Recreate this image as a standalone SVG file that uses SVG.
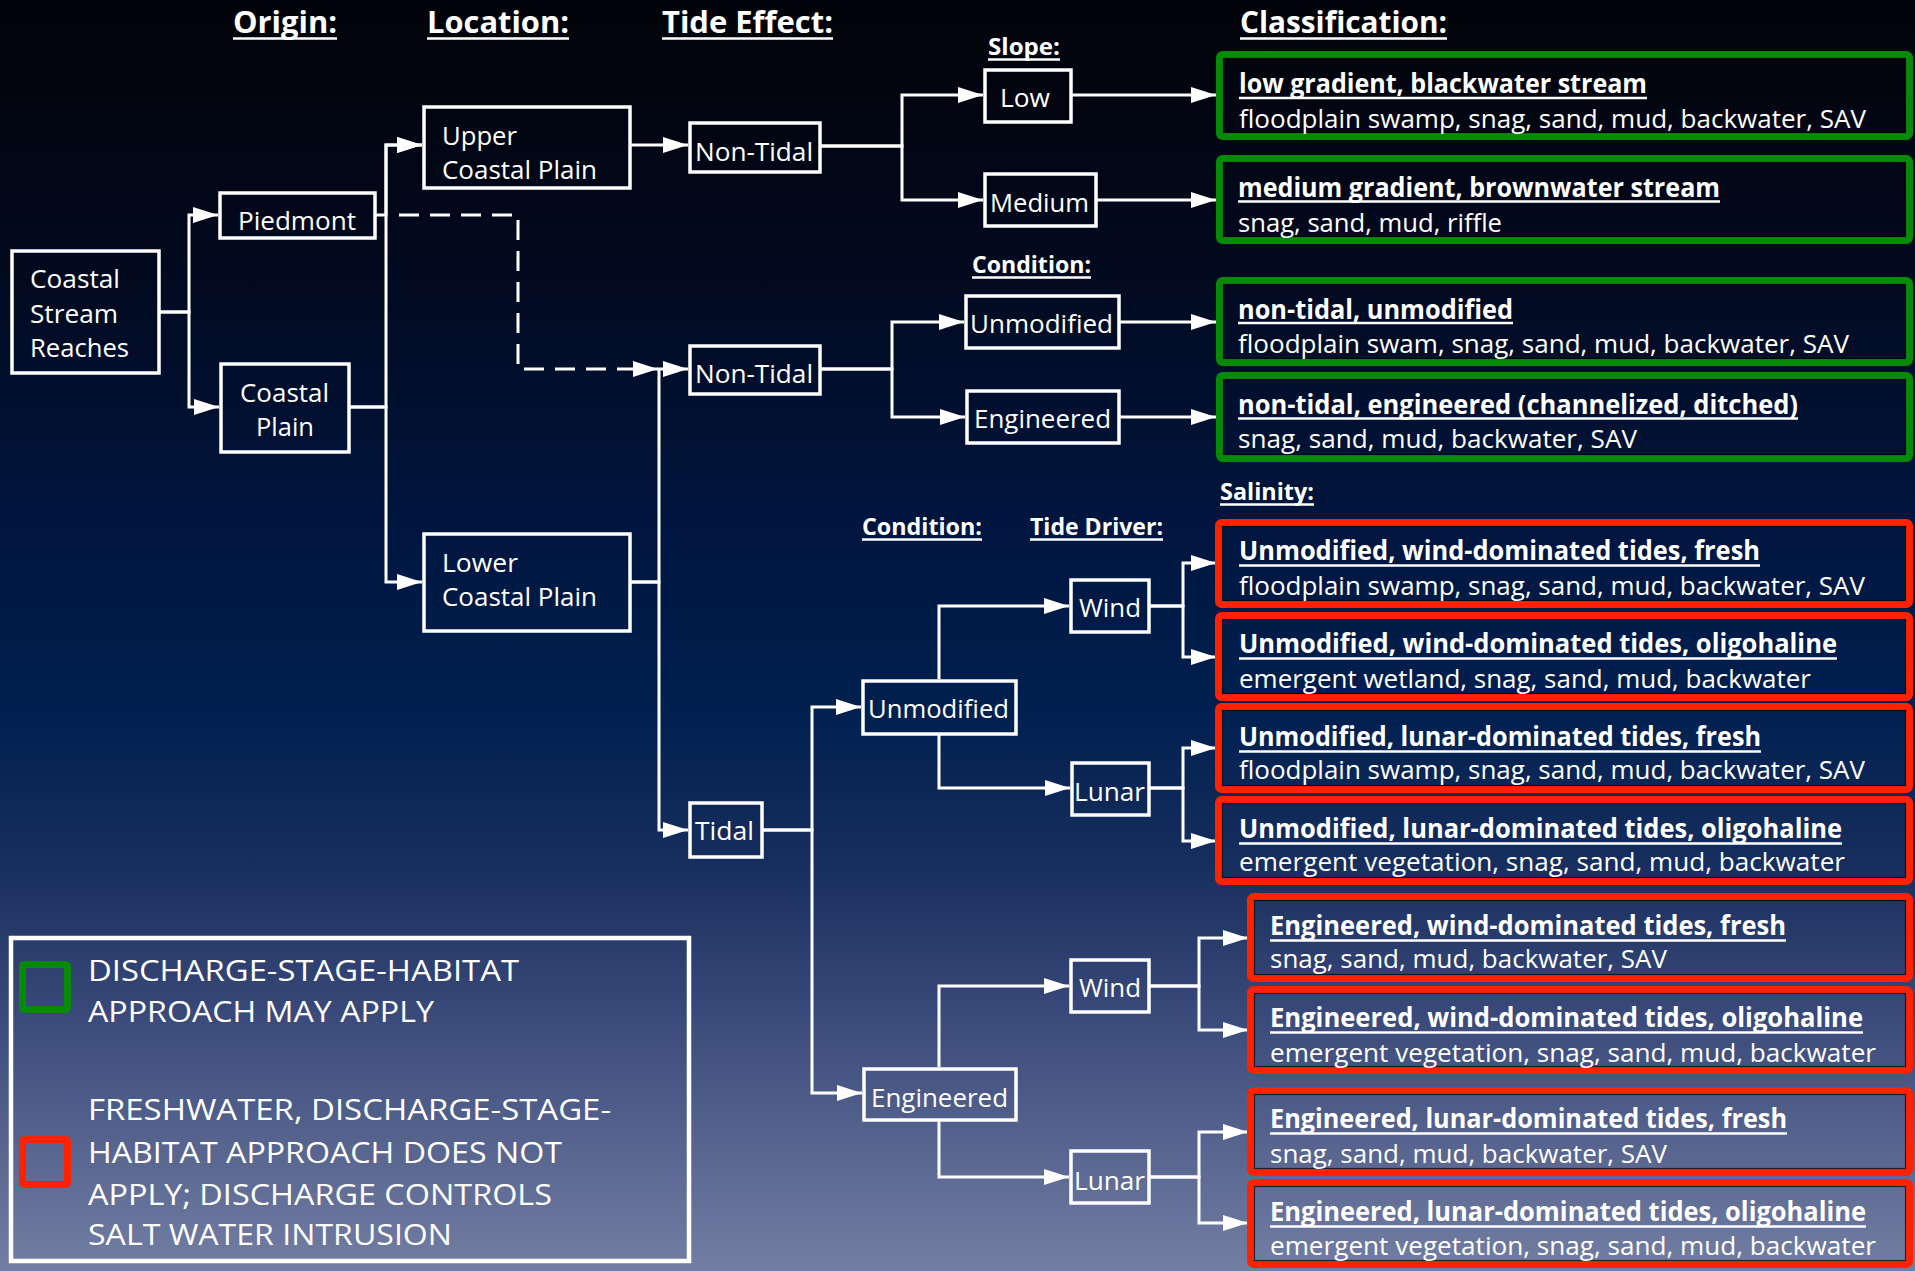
<svg xmlns="http://www.w3.org/2000/svg" width="1915" height="1271" viewBox="0 0 1915 1271">
<defs>
<linearGradient id="bgg" x1="0" y1="0" x2="0" y2="1">
<stop offset="0" stop-color="#020308"/>
<stop offset="0.22" stop-color="#020a20"/>
<stop offset="0.42" stop-color="#001640"/>
<stop offset="0.56" stop-color="#00204f"/>
<stop offset="0.68" stop-color="#172e5e"/>
<stop offset="0.8" stop-color="#3a4a7a"/>
<stop offset="1" stop-color="#737ea3"/>
</linearGradient>
<marker id="ah" markerUnits="userSpaceOnUse" markerWidth="26" markerHeight="18" refX="25" refY="8.5" orient="auto" viewBox="0 0 26 18">
<path d="M0,0.5 L25,8.5 L0,16.5 z" fill="#fff"/>
</marker>
<style>
.t{font-family:"Open Sans","Liberation Sans",sans-serif;fill:#fff;font-size:26px}
.h{font-weight:bold;font-size:30px}
.sh{font-weight:bold;font-size:23px}
.b{font-weight:bold}
.lg{font-size:29px}
.box{fill:none;stroke:#fff;stroke-width:3.5}
.gb{fill:none;stroke:#078a07;stroke-width:7}
.rb{fill:none;stroke:#ff2200;stroke-width:7}
.in{fill:none;stroke:#000010;stroke-width:1.2;stroke-opacity:0.7}
.ul{stroke:#fff;stroke-width:2.5}
.c{fill:none;stroke:#fff;stroke-width:3;marker-end:url(#ah)}
.d{stroke-dasharray:20 11}
.lb{fill:none;stroke:#fff;stroke-width:4.5}
</style>
</defs>
<rect x="0" y="0" width="1915" height="1271" fill="url(#bgg)"/>

<g id="headers">
<text class="t h" x="233" y="33" textLength="104" lengthAdjust="spacingAndGlyphs">Origin:</text>
<line class="ul" x1="233" y1="38.5" x2="337" y2="38.5"/>
<text class="t h" x="427" y="33" textLength="142" lengthAdjust="spacingAndGlyphs">Location:</text>
<line class="ul" x1="427" y1="38.5" x2="569" y2="38.5"/>
<text class="t h" x="662" y="33" textLength="171" lengthAdjust="spacingAndGlyphs">Tide Effect:</text>
<line class="ul" x1="662" y1="38.5" x2="833" y2="38.5"/>
<text class="t h" x="1240" y="33" textLength="207" lengthAdjust="spacingAndGlyphs">Classification:</text>
<line class="ul" x1="1240" y1="38.5" x2="1447" y2="38.5"/>
<text class="t sh" x="988" y="55" textLength="72" lengthAdjust="spacingAndGlyphs">Slope:</text>
<line class="ul" x1="988" y1="59.5" x2="1060" y2="59.5"/>
<text class="t sh" x="972" y="273" textLength="119" lengthAdjust="spacingAndGlyphs">Condition:</text>
<line class="ul" x1="972" y1="277.5" x2="1091" y2="277.5"/>
<text class="t sh" x="862" y="535" textLength="120" lengthAdjust="spacingAndGlyphs">Condition:</text>
<line class="ul" x1="862" y1="539.5" x2="982" y2="539.5"/>
<text class="t sh" x="1030" y="535" textLength="133" lengthAdjust="spacingAndGlyphs">Tide Driver:</text>
<line class="ul" x1="1030" y1="539.5" x2="1163" y2="539.5"/>
<text class="t sh" x="1220" y="500" textLength="94" lengthAdjust="spacingAndGlyphs">Salinity:</text>
<line class="ul" x1="1220" y1="504.5" x2="1314" y2="504.5"/>
</g>

<g id="connectors">
<path class="c" d="M160 312 H189 V215 H218"/>
<path class="c" d="M160 312 H189 V407 H219"/>
<path class="c" d="M376 215 H386 V145 H422"/>
<path class="c" d="M350 407 H386 V145 H422"/>
<path class="c" d="M350 407 H386 V582 H422"/>
<path class="c d" d="M399 215 H518 V369 H658"/>
<path class="c" d="M631 145 H688"/>
<path class="c" d="M631 582 H659 V369 H688"/>
<path class="c" d="M631 582 H659 V830 H688"/>
<path class="c" d="M821 146 H902 V95 H983"/>
<path class="c" d="M821 146 H902 V200 H983"/>
<path class="c" d="M1072 95 H1216"/>
<path class="c" d="M1097 200 H1216"/>
<path class="c" d="M821 369 H892 V322 H964"/>
<path class="c" d="M821 369 H892 V417 H965"/>
<path class="c" d="M1120 322 H1216"/>
<path class="c" d="M1120 417 H1216"/>
<path class="c" d="M763 830 H812 V707 H861"/>
<path class="c" d="M763 830 H812 V1093 H862"/>
<path class="c" d="M939 679 V606 H1069"/>
<path class="c" d="M939 735 V788 H1070"/>
<path class="c" d="M1150 606 H1183 V563 H1216"/>
<path class="c" d="M1150 606 H1183 V657 H1216"/>
<path class="c" d="M1150 788 H1183 V748 H1216"/>
<path class="c" d="M1150 788 H1183 V841 H1216"/>
<path class="c" d="M939 1067 V986 H1069"/>
<path class="c" d="M939 1121 V1177 H1069"/>
<path class="c" d="M1150 986 H1199 V938 H1248"/>
<path class="c" d="M1150 986 H1199 V1030 H1248"/>
<path class="c" d="M1150 1177 H1199 V1132 H1248"/>
<path class="c" d="M1150 1177 H1199 V1223 H1248"/>
</g>

<g id="n-coastal-stream-reaches">
<rect class="box" x="12" y="251" width="147" height="122"/>
<text class="t" x="30" y="288" textLength="90" lengthAdjust="spacingAndGlyphs">Coastal</text>
<text class="t" x="30" y="323" textLength="88" lengthAdjust="spacingAndGlyphs">Stream</text>
<text class="t" x="30" y="357" textLength="99" lengthAdjust="spacingAndGlyphs">Reaches</text>
</g>
<g id="n-piedmont">
<rect class="box" x="220" y="193" width="155" height="45"/>
<text class="t" x="238" y="230" textLength="118" lengthAdjust="spacingAndGlyphs">Piedmont</text>
</g>
<g id="n-coastal-plain">
<rect class="box" x="221" y="364" width="128" height="88"/>
<text class="t" x="240" y="402" textLength="89" lengthAdjust="spacingAndGlyphs">Coastal</text>
<text class="t" x="256" y="436" textLength="58" lengthAdjust="spacingAndGlyphs">Plain</text>
</g>
<g id="n-upper-coastal-plain">
<rect class="box" x="424" y="107" width="206" height="81"/>
<text class="t" x="442" y="145" textLength="75" lengthAdjust="spacingAndGlyphs">Upper</text>
<text class="t" x="442" y="179" textLength="155" lengthAdjust="spacingAndGlyphs">Coastal Plain</text>
</g>
<g id="n-lower-coastal-plain">
<rect class="box" x="424" y="534" width="206" height="97"/>
<text class="t" x="442" y="572" textLength="76" lengthAdjust="spacingAndGlyphs">Lower</text>
<text class="t" x="442" y="606" textLength="155" lengthAdjust="spacingAndGlyphs">Coastal Plain</text>
</g>
<g id="n-non-tidal-1">
<rect class="box" x="690" y="123" width="130" height="49"/>
<text class="t" x="695" y="161" textLength="118" lengthAdjust="spacingAndGlyphs">Non-Tidal</text>
</g>
<g id="n-non-tidal-2">
<rect class="box" x="690" y="346" width="130" height="48"/>
<text class="t" x="695" y="383" textLength="118" lengthAdjust="spacingAndGlyphs">Non-Tidal</text>
</g>
<g id="n-tidal">
<rect class="box" x="690" y="803" width="72" height="54"/>
<text class="t" x="695" y="840" textLength="59" lengthAdjust="spacingAndGlyphs">Tidal</text>
</g>
<g id="n-low">
<rect class="box" x="985" y="70" width="86" height="52"/>
<text class="t" x="1000" y="107" textLength="50" lengthAdjust="spacingAndGlyphs">Low</text>
</g>
<g id="n-medium">
<rect class="box" x="985" y="174" width="111" height="52"/>
<text class="t" x="990" y="212" textLength="99" lengthAdjust="spacingAndGlyphs">Medium</text>
</g>
<g id="n-unmodified-1">
<rect class="box" x="966" y="296" width="153" height="52"/>
<text class="t" x="970" y="333" textLength="143" lengthAdjust="spacingAndGlyphs">Unmodified</text>
</g>
<g id="n-engineered-1">
<rect class="box" x="967" y="391" width="152" height="52"/>
<text class="t" x="974" y="428" textLength="137" lengthAdjust="spacingAndGlyphs">Engineered</text>
</g>
<g id="n-unmodified-2">
<rect class="box" x="863" y="681" width="153" height="53"/>
<text class="t" x="868" y="718" textLength="141" lengthAdjust="spacingAndGlyphs">Unmodified</text>
</g>
<g id="n-engineered-2">
<rect class="box" x="864" y="1069" width="152" height="51"/>
<text class="t" x="871" y="1107" textLength="137" lengthAdjust="spacingAndGlyphs">Engineered</text>
</g>
<g id="n-wind-1">
<rect class="box" x="1071" y="580" width="78" height="52"/>
<text class="t" x="1079" y="617" textLength="62" lengthAdjust="spacingAndGlyphs">Wind</text>
</g>
<g id="n-lunar-1">
<rect class="box" x="1072" y="763" width="77" height="52"/>
<text class="t" x="1074" y="801" textLength="71" lengthAdjust="spacingAndGlyphs">Lunar</text>
</g>
<g id="n-wind-2">
<rect class="box" x="1071" y="960" width="78" height="52"/>
<text class="t" x="1079" y="997" textLength="62" lengthAdjust="spacingAndGlyphs">Wind</text>
</g>
<g id="n-lunar-2">
<rect class="box" x="1071" y="1151" width="78" height="52"/>
<text class="t" x="1074" y="1190" textLength="71" lengthAdjust="spacingAndGlyphs">Lunar</text>
</g>

<g id="c-low-gradient">
<rect class="gb" x="1219.5" y="54.5" width="690" height="82" rx="3"/>
<rect class="in" x="1223.5" y="58.5" width="682" height="74"/>
<text class="t b" x="1239" y="93" textLength="408" lengthAdjust="spacingAndGlyphs">low gradient, blackwater stream</text>
<line class="ul" x1="1239" y1="98" x2="1647" y2="98"/>
<text class="t" x="1239" y="128" textLength="627" lengthAdjust="spacingAndGlyphs">floodplain swamp, snag, sand, mud, backwater, SAV</text>
</g>
<g id="c-medium-gradient">
<rect class="gb" x="1219.5" y="158.5" width="690" height="82" rx="3"/>
<rect class="in" x="1223.5" y="162.5" width="682" height="74"/>
<text class="t b" x="1238" y="197" textLength="482" lengthAdjust="spacingAndGlyphs">medium gradient, brownwater stream</text>
<line class="ul" x1="1238" y1="201.5" x2="1720" y2="201.5"/>
<text class="t" x="1238" y="232" textLength="264" lengthAdjust="spacingAndGlyphs">snag, sand, mud, riffle</text>
</g>
<g id="c-non-tidal-unmodified">
<rect class="gb" x="1219.5" y="280.5" width="690" height="82" rx="3"/>
<rect class="in" x="1223.5" y="284.5" width="682" height="74"/>
<text class="t b" x="1238" y="319" textLength="275" lengthAdjust="spacingAndGlyphs">non-tidal, unmodified</text>
<line class="ul" x1="1238" y1="323" x2="1513" y2="323"/>
<text class="t" x="1238" y="353" textLength="611" lengthAdjust="spacingAndGlyphs">floodplain swam, snag, sand, mud, backwater, SAV</text>
</g>
<g id="c-non-tidal-engineered">
<rect class="gb" x="1219.5" y="375.5" width="690" height="83" rx="3"/>
<rect class="in" x="1223.5" y="379.5" width="682" height="75"/>
<text class="t b" x="1238" y="414" textLength="560" lengthAdjust="spacingAndGlyphs">non-tidal, engineered (channelized, ditched)</text>
<line class="ul" x1="1238" y1="418.5" x2="1798" y2="418.5"/>
<text class="t" x="1238" y="448" textLength="399" lengthAdjust="spacingAndGlyphs">snag, sand, mud, backwater, SAV</text>
</g>

<g id="c-unmod-wind-fresh">
<rect class="rb" x="1218.5" y="522.5" width="691" height="82" rx="3"/>
<rect class="in" x="1222.5" y="526.5" width="683" height="74"/>
<text class="t b" x="1239" y="560" textLength="521" lengthAdjust="spacingAndGlyphs">Unmodified, wind-dominated tides, fresh</text>
<line class="ul" x1="1239" y1="565.5" x2="1760" y2="565.5"/>
<text class="t" x="1239" y="595" textLength="626" lengthAdjust="spacingAndGlyphs">floodplain swamp, snag, sand, mud, backwater, SAV</text>
</g>
<g id="c-unmod-wind-oligo">
<rect class="rb" x="1218.5" y="615.5" width="691" height="82" rx="3"/>
<rect class="in" x="1222.5" y="619.5" width="683" height="74"/>
<text class="t b" x="1239" y="653" textLength="598" lengthAdjust="spacingAndGlyphs">Unmodified, wind-dominated tides, oligohaline</text>
<line class="ul" x1="1239" y1="658.5" x2="1837" y2="658.5"/>
<text class="t" x="1239" y="688" textLength="572" lengthAdjust="spacingAndGlyphs">emergent wetland, snag, sand, mud, backwater</text>
</g>
<g id="c-unmod-lunar-fresh">
<rect class="rb" x="1218.5" y="706.5" width="691" height="83" rx="3"/>
<rect class="in" x="1222.5" y="710.5" width="683" height="75"/>
<text class="t b" x="1239" y="746" textLength="522" lengthAdjust="spacingAndGlyphs">Unmodified, lunar-dominated tides, fresh</text>
<line class="ul" x1="1239" y1="751.5" x2="1761" y2="751.5"/>
<text class="t" x="1239" y="779" textLength="626" lengthAdjust="spacingAndGlyphs">floodplain swamp, snag, sand, mud, backwater, SAV</text>
</g>
<g id="c-unmod-lunar-oligo">
<rect class="rb" x="1218.5" y="799.5" width="691" height="82" rx="3"/>
<rect class="in" x="1222.5" y="803.5" width="683" height="74"/>
<text class="t b" x="1239" y="838" textLength="603" lengthAdjust="spacingAndGlyphs">Unmodified, lunar-dominated tides, oligohaline</text>
<line class="ul" x1="1239" y1="843.5" x2="1842" y2="843.5"/>
<text class="t" x="1239" y="871" textLength="606" lengthAdjust="spacingAndGlyphs">emergent vegetation, snag, sand, mud, backwater</text>
</g>
<g id="c-eng-wind-fresh">
<rect class="rb" x="1250.5" y="896.5" width="659" height="82" rx="3"/>
<rect class="in" x="1254.5" y="900.5" width="651" height="74"/>
<text class="t b" x="1270" y="935" textLength="516" lengthAdjust="spacingAndGlyphs">Engineered, wind-dominated tides, fresh</text>
<line class="ul" x1="1270" y1="940.5" x2="1786" y2="940.5"/>
<text class="t" x="1270" y="968" textLength="397" lengthAdjust="spacingAndGlyphs">snag, sand, mud, backwater, SAV</text>
</g>
<g id="c-eng-wind-oligo">
<rect class="rb" x="1250.5" y="989.5" width="659" height="81" rx="3"/>
<rect class="in" x="1254.5" y="993.5" width="651" height="73"/>
<text class="t b" x="1270" y="1027" textLength="593" lengthAdjust="spacingAndGlyphs">Engineered, wind-dominated tides, oligohaline</text>
<line class="ul" x1="1270" y1="1032.5" x2="1863" y2="1032.5"/>
<text class="t" x="1270" y="1062" textLength="606" lengthAdjust="spacingAndGlyphs">emergent vegetation, snag, sand, mud, backwater</text>
</g>
<g id="c-eng-lunar-fresh">
<rect class="rb" x="1250.5" y="1090.5" width="659" height="82" rx="3"/>
<rect class="in" x="1254.5" y="1094.5" width="651" height="74"/>
<text class="t b" x="1270" y="1128" textLength="517" lengthAdjust="spacingAndGlyphs">Engineered, lunar-dominated tides, fresh</text>
<line class="ul" x1="1270" y1="1133.5" x2="1787" y2="1133.5"/>
<text class="t" x="1270" y="1163" textLength="397" lengthAdjust="spacingAndGlyphs">snag, sand, mud, backwater, SAV</text>
</g>
<g id="c-eng-lunar-oligo">
<rect class="rb" x="1250.5" y="1182.5" width="659" height="82" rx="3"/>
<rect class="in" x="1254.5" y="1186.5" width="651" height="74"/>
<text class="t b" x="1270" y="1221" textLength="596" lengthAdjust="spacingAndGlyphs">Engineered, lunar-dominated tides, oligohaline</text>
<line class="ul" x1="1270" y1="1226.5" x2="1866" y2="1226.5"/>
<text class="t" x="1270" y="1255" textLength="606" lengthAdjust="spacingAndGlyphs">emergent vegetation, snag, sand, mud, backwater</text>
</g>

<g id="legend">
<rect class="lb" x="11" y="938" width="678" height="323"/>
<rect class="gb" x="22.5" y="964.5" width="45" height="45" rx="2"/>
<rect class="rb" x="22.5" y="1139.5" width="45" height="45" rx="2"/>
<text class="t lg" x="88" y="981" textLength="431" lengthAdjust="spacingAndGlyphs">DISCHARGE-STAGE-HABITAT</text>
<text class="t lg" x="88" y="1022" textLength="346" lengthAdjust="spacingAndGlyphs">APPROACH MAY APPLY</text>
<text class="t lg" x="88" y="1120" textLength="523" lengthAdjust="spacingAndGlyphs">FRESHWATER, DISCHARGE-STAGE-</text>
<text class="t lg" x="88" y="1163" textLength="474" lengthAdjust="spacingAndGlyphs">HABITAT APPROACH DOES NOT</text>
<text class="t lg" x="88" y="1205" textLength="464" lengthAdjust="spacingAndGlyphs">APPLY; DISCHARGE CONTROLS</text>
<text class="t lg" x="88" y="1245" textLength="364" lengthAdjust="spacingAndGlyphs">SALT WATER INTRUSION</text>
</g>
</svg>
